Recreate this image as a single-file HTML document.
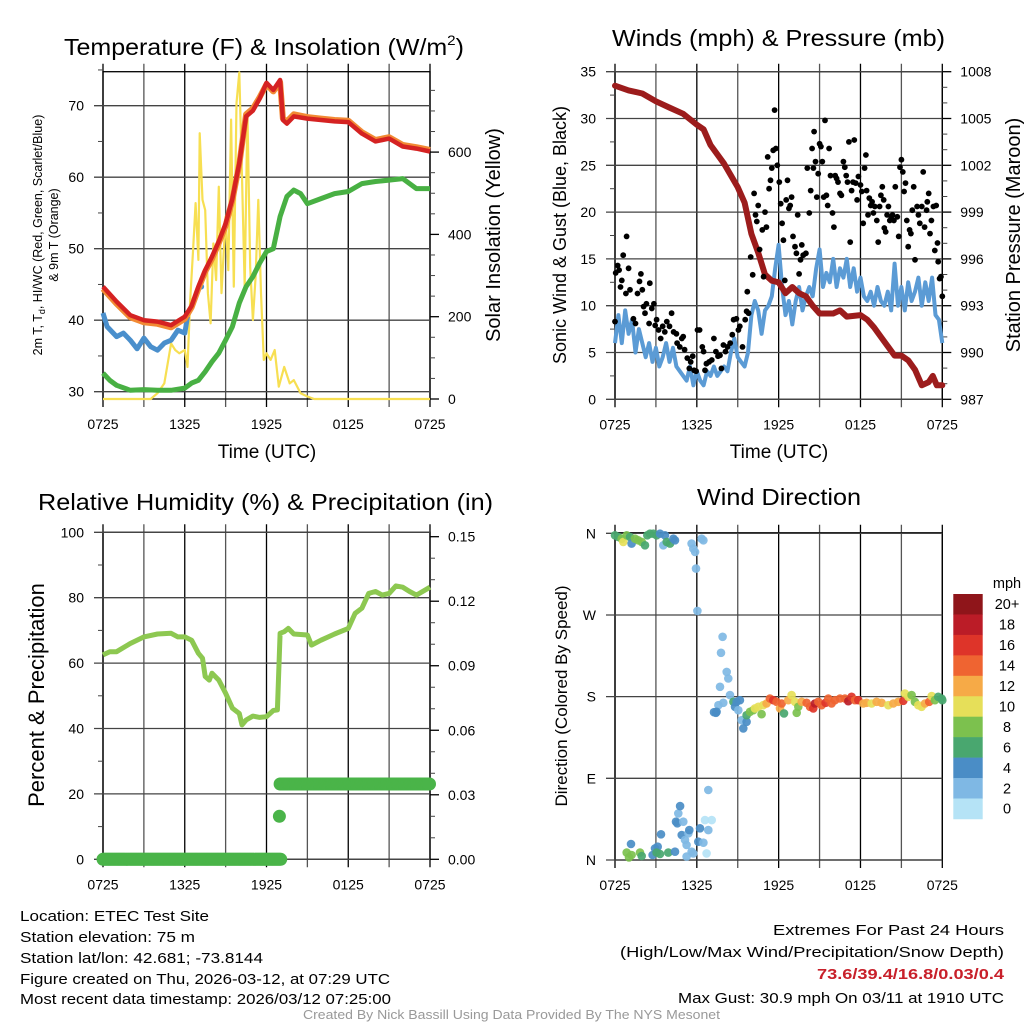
<!DOCTYPE html>
<html><head><meta charset="utf-8"><style>
html,body{margin:0;padding:0;background:#fff;width:1024px;height:1024px;overflow:hidden}
svg{display:block;font-family:"Liberation Sans",Arial,sans-serif}
</style></head><body>
<svg id="chart" width="1024" height="1024" viewBox="0 0 1024 1024" xmlns="http://www.w3.org/2000/svg">
<rect width="1024" height="1024" fill="#fff"/>
<g id="static">
<text x="64" y="55" font-size="23" textLength="400" lengthAdjust="spacingAndGlyphs">Temperature (F) &amp; Insolation (W/m<tspan font-size="14" dy="-10">2</tspan><tspan dy="10">)</tspan></text>
<text x="612" y="46" font-size="23" textLength="333" lengthAdjust="spacingAndGlyphs">Winds (mph) &amp; Pressure (mb)</text>
<text x="38" y="510" font-size="23" textLength="455" lengthAdjust="spacingAndGlyphs">Relative Humidity (%) &amp; Precipitation (in)</text>
<text x="697" y="505" font-size="23" textLength="164" lengthAdjust="spacingAndGlyphs">Wind Direction</text>
<text x="267" y="458" font-size="19" text-anchor="middle">Time (UTC)</text>
<text x="779" y="458" font-size="19" text-anchor="middle">Time (UTC)</text>
<text transform="translate(42,235) rotate(-90)" font-size="12.5" text-anchor="middle">2m T, T<tspan font-size="9" dy="3">d</tspan><tspan dy="-3">, HI/WC (Red, Green, Scarlet/Blue)</tspan></text>
<text transform="translate(58,235) rotate(-90)" font-size="12.5" text-anchor="middle">&amp; 9m T (Orange)</text>
<text transform="translate(500,235) rotate(-90)" font-size="20" text-anchor="middle">Solar Insolation (Yellow)</text>
<text transform="translate(566,235) rotate(-90)" font-size="18" text-anchor="middle">Sonic Wind &amp; Gust (Blue, Black)</text>
<text transform="translate(1020,235) rotate(-90)" font-size="20" text-anchor="middle">Station Pressure (Maroon)</text>
<text transform="translate(44,695) rotate(-90)" font-size="22" text-anchor="middle">Percent &amp; Precipitation</text>
<text transform="translate(567,696) rotate(-90)" font-size="17" text-anchor="middle">Direction (Colored By Speed)</text>
<text x="20" y="921" font-size="15" textLength="189" lengthAdjust="spacingAndGlyphs">Location: ETEC Test Site</text>
<text x="20" y="942" font-size="15" textLength="175" lengthAdjust="spacingAndGlyphs">Station elevation: 75 m</text>
<text x="20" y="963" font-size="15" textLength="243" lengthAdjust="spacingAndGlyphs">Station lat/lon: 42.681; -73.8144</text>
<text x="20" y="984" font-size="15" textLength="370" lengthAdjust="spacingAndGlyphs">Figure created on Thu, 2026-03-12, at 07:29 UTC</text>
<text x="20" y="1004" font-size="15" textLength="371" lengthAdjust="spacingAndGlyphs">Most recent data timestamp: 2026/03/12 07:25:00</text>
<text x="773" y="935" font-size="15" textLength="231" lengthAdjust="spacingAndGlyphs">Extremes For Past 24 Hours</text>
<text x="620" y="957" font-size="15" textLength="384" lengthAdjust="spacingAndGlyphs">(High/Low/Max Wind/Precipitation/Snow Depth)</text>
<text x="817" y="979" font-size="15" font-weight="bold" fill="#c8202a" textLength="187" lengthAdjust="spacingAndGlyphs">73.6/39.4/16.8/0.03/0.4</text>
<text x="678" y="1003" font-size="15" textLength="326" lengthAdjust="spacingAndGlyphs">Max Gust: 30.9 mph On 03/11 at 1910 UTC</text>
<text x="303" y="1019" font-size="12.5" fill="#999" textLength="417" lengthAdjust="spacingAndGlyphs">Created By Nick Bassill Using Data Provided By The NYS Mesonet</text>
</g>
</svg>
<script>
// ---------- DATA ----------
var timeTicks = [0, 6, 12, 18, 24];
var timeTickLabels = ["0725", "1325", "1925", "0125", "0725"];

var tempTimes = [0,1,2,3,4,5,6,6.5,7,7.5,8,8.5,9,9.5,10,10.5,11,11.5,12,12.5,13,13.2,13.5,14,15,16,17,18,19,20,21,22,23,24];
var tempValues = [44.7,42.6,40.7,40,39.8,39.3,40.5,42,44.7,47,48.9,51,53.5,57,62,68.5,69.3,71,73.2,72.2,73.6,68,67.5,68.5,68.2,68,67.8,67.7,66.1,65,65.4,64.3,64,63.6];
var temp9mValues = [44.4,42.3,40.4,39.7,39.5,39.0,40.2,41.8,44.4,46.8,48.6,50.8,53.2,56.8,61.8,68.8,69.6,71.2,73.0,72.0,73.3,68.2,67.8,68.8,68.4,68.2,68.0,67.9,66.3,65.2,65.6,64.5,64.2,63.8];
var chillTimes = [0,0.3,1,1.5,2,2.5,3,3.5,4,4.5,5,5.5,6,6.2];
var chillValues = [41,39.1,37.7,38.2,37.2,36,37.5,36.3,35.8,36.8,37.2,38.6,38.2,40.5];
var chillExtraTimes = [7.2];
var chillExtraValues = [44.7];
var dewTimes = [0,0.5,1,2,3,4,5,6,6.5,7,7.5,8,8.5,9,9.5,10,10.5,11,11.5,12,12.5,13,13.5,14,14.5,15,16,17,18,19,20,21,22,23,24];
var dewValues = [32.6,31.6,30.9,30.2,30.3,30.2,30.2,30.5,31.2,31.6,32.8,34.2,35.4,37.2,39.1,42.4,44.7,46.1,48,49.6,50,54.5,57.3,58.2,57.7,56.3,57,57.7,58,59.1,59.4,59.6,59.8,58.4,58.4];
var solarTimes = [0,3.5,4,4.5,5,5.3,5.6,6,6.2,6.4,6.6,6.8,7,7.1,7.3,7.5,7.7,7.9,8.1,8.3,8.5,8.7,9,9.2,9.4,9.6,9.8,10,10.2,10.4,10.6,10.8,11,11.2,11.4,11.6,11.8,12,12.3,12.6,12.9,13.3,13.7,14,14.5,15,15.5,24];
var solarValues = [0,0,14,38,135,119,111,119,78,241,354,476,338,646,484,459,257,184,378,289,516,257,443,313,679,273,719,794,540,273,700,320,192,297,484,257,95,111,95,119,30,78,38,46,14,6,0,0];

var pressTimes = [0,1,2,3,4,5,6,6.5,7,8,9,9.5,10,10.5,11,11.5,12,12.5,13,13.5,14,14.5,15,16,16.5,17,18,18.5,19,19.5,20,20.5,21,21.5,22,22.5,23,23.3,23.6,24];
var pressValues = [1007.1,1006.8,1006.6,1006.1,1005.7,1005.3,1004.6,1004.3,1003.3,1002.1,1000.6,999.6,997.6,996.4,995,994.6,994.5,993.8,994.2,993.8,993.6,993,992.5,992.5,992.7,992.3,992.4,992.1,991.6,991,990.4,989.8,989.8,989.5,988.9,987.9,988.1,988.5,987.9,987.9];
var windValues = [6,9,6,9.5,7,8.5,5,7.5,6,4.5,6,4,5.5,3.5,4.5,6,4,5.5,3.5,3,2.5,2,3.5,1.5,3,2,1.5,3,2.5,3.5,2.5,3,3.5,3,5,6.5,4.5,4,3.5,5,9,10.5,9.5,7,9.5,10,11,14,16.5,12,9,10.5,8,10.5,12,9.5,11,12,11,14,16,12,13.5,12.5,15,12,14,13,15,12,14,11.5,13,11,10.5,11.5,10,12,10.5,10,11.5,9.5,14.5,10,12,9.5,12.5,10.5,11.5,13,10,12.5,10.5,13,9,8.5,6];
var windStep = 0.25;
var gustTimes = [0,0.05,0.2,0.3,0.4,0.6,0.85,0.8,0.5,1,1.1,1.35,1.5,1.65,1.8,1.9,2,2.1,2.2,2.3,2.5,2.55,2.7,2.85,2.95,3.05,3.2,3.35,3.5,3.65,3.8,4,4.15,4.3,4.5,4.55,4.75,4.9,5,5.1,5.3,5.45,5.55,5.7,5.8,5.95,6.05,6.2,6.4,6.5,6.6,6.7,6.9,7.1,7.25,7.4,7.55,7.7,7.8,7.95,8.1,8.25,8.45,8.6,8.7,8.9,9.05,9.15,9.35,9.55,9.65,9.7,9.8,9.95,10.1,10.2,10.3,10.4,10.5,10.6,10.8,10.9,11,11.1,11.2,11.3,11.4,11.5,11.6,11.7,11.8,11.9,12.05,12.15,12.25,12.35,12.45,12.55,12.65,12.75,12.85,12.95,13.05,13.2,13.3,13.4,13.5,13.6,13.7,13.8,14,14.1,14.25,14.35,14.45,14.55,14.6,14.7,14.8,14.9,15,15.1,15.2,15.3,15.4,15.5,15.6,15.7,15.8,15.95,16.05,16.15,16.25,16.35,16.5,16.6,16.75,16.85,16.95,17.05,17.15,17.25,17.35,17.45,17.55,17.65,17.75,17.85,18,18.1,18.2,18.3,18.4,18.45,18.55,18.65,18.75,18.85,18.95,19.05,19.2,19.3,19.4,19.5,19.6,19.7,19.75,19.85,19.95,20.05,20.15,20.25,20.35,20.45,20.55,20.7,20.8,20.9,21,21.1,21.2,21.3,21.4,21.5,21.6,21.7,21.8,21.9,22,22.15,22.25,22.35,22.5,22.6,22.7,22.85,22.9,23,23.1,23.2,23.35,23.45,23.55,23.65,23.7,23.8,23.9,24];
var gustValues = [8.3,13.5,14.3,13.8,12,15.4,17.4,11.3,12.7,14,11.7,8.6,8.1,11.3,12.6,13.4,11.7,9.9,9.2,10.2,8.1,12.4,9.7,10.2,7.9,8.5,7.4,6.5,7.8,7.2,8.3,7.8,9.2,7.2,7,6,5.6,6.5,6.7,5.3,4.4,3.3,4,4.6,3.1,3,7.4,7.4,5.6,5.1,3.1,3.8,4,4.2,6.5,5.1,4.6,4.7,3.3,5.8,5.1,5.6,6,6.9,8.5,8.6,7.4,7.8,5.6,8.5,9.4,11.5,9.2,15.2,13.3,22,19.7,19,20.7,16,18.1,13.1,20,18.4,25.9,22.5,23.4,24.7,26.6,30.9,26.8,25,23.2,20.9,18.8,17,12.7,21.3,23.4,20.4,20.7,21.6,17.4,16.3,15.6,19.7,13.4,14.9,16.5,15.4,15.6,24.7,19.9,22.3,26.8,24.7,28.6,25.4,21.6,24.1,27.3,27,25.4,21.6,29.8,21.8,20.7,26.8,23.9,19.9,18.4,23.9,23.6,23.2,22,21.8,25.4,24.8,23.9,23.2,27.5,16.8,22.3,23.2,27.7,23.1,21.3,23.8,22.9,22.2,18.8,24.7,26.1,22.3,19.7,21.5,20.7,21.1,19.9,20.6,19.1,16.8,20.6,21.8,22.7,21.3,18.3,17.9,19.7,20.6,19.1,19.5,19.7,19.1,22.7,19.5,17.4,24.8,25.6,24.3,22.2,23.1,19.1,16.3,18.1,17.7,20.2,22.7,14.9,20.6,19.7,18.8,20.6,24.3,18.4,20.2,21.1,22,17.7,19.1,20.6,15.9,20.7,16.7,14.7,12.9,13.1,11];

var rhTimes = [0,0.5,1,2,3,4,5,5.5,6,6.5,7,7.3,7.5,7.8,8,8.5,9,9.5,10,10.2,10.5,11,11.5,12,12.5,12.8,13,13.3,13.6,14,15,15.3,16,17,18,18.5,19,19.5,20,20.5,21,21.5,22,22.5,23,24];
var rhValues = [62.5,63.5,63.5,66,68,68.9,69.1,68,68,67,63,61.5,55.9,54.8,56.9,54.8,50.8,46.2,44.6,41.1,42.6,43.8,43.4,43.6,45.5,45.7,69.1,69.6,70.6,68.9,68.6,65.5,67,68.9,70.6,75.2,76.8,81.3,81.9,80.8,81.3,83.6,83.2,81.9,80.8,83.2];
var precipRunStart = [0, 12.95, 13.0];
var precipRunEnd = [13.1, 12.95, 24];
var precipRunValue = [0, 0.02, 0.035];

var dirTimes = [0,0.24,0.49,0.61,0.86,1.1,1.22,1.47,1.71,1.96,2.2,2.37,2.57,2.81,3.05,3.3,3.54,3.67,3.79,4.03,4.28,4.4,5.62,5.74,5.87,6.35,6.48,5.94,6.04,
7.89,7.77,8.19,8.31,7.7,8.43,7.94,7.58,7.26,7.4,7.45,8.68,8.8,8.92,9.16,9.04,9.29,9.41,9.65,9.65,9.9,10.14,10.26,10.51,10.75,10.87,11.12,11.36,11.61,11.85,12.1,12.22,12.39,12.71,12.95,13.2,13.32,13.44,13.69,14.05,14.3,14.54,14.66,14.91,15.15,15.44,15.64,15.88,16.13,16.5,16.86,17.11,17.35,17.6,17.84,18.21,18.45,18.82,19.18,19.55,20.04,20.41,20.77,21.14,21.26,21.51,21.75,21.99,22.24,22.48,22.73,23.04,23.22,23.46,23.7,23.95,24,
1.17,0.86,1.03,1.22,1.83,1.96,2.76,2.93,3.13,3.05,3.3,3.37,3.91,4.4,4.47,4.57,4.64,4.77,4.89,5.01,5.13,5.25,5.38,5.45,5.62,5.74,5.25,6.11,6.23,6.48,6.6,6.72,6.84,7.09,6.84];
var dirDegrees = [357.8,356,354.1,350.5,357.8,356,348.6,354.1,352.3,350.5,346.8,357.8,359.6,359.6,357.8,359.6,346.8,357.8,350.5,348.6,354.1,352.3,348.6,343.1,339.4,354.1,352.3,321.1,274.5,
245.9,228.3,207.3,200,190.8,181.7,173.2,170.6,162.9,162.2,163.3,174.3,168.8,174.3,176.1,165.1,154.1,145,152.3,159.6,163.3,165.1,167,168.8,160.7,170.6,172.5,178,176.1,174.3,167,172.5,161.5,176.1,181.7,174.3,162.2,168.8,174.3,173.2,168.8,167,172.5,174.3,170.6,173.2,178,172.5,176.1,178,178,175,179.8,176.1,176.1,172.5,173.2,172.5,174.3,173.2,170.6,172.5,174.3,175.4,183.5,179.8,181.7,174.3,170.6,168.8,172.5,174.3,180.6,176.1,179.8,178,176.1,
17.6,8.1,2.9,5.5,8.1,4.4,5.5,12.8,14.7,8.1,6.6,28.3,8.1,9.2,42.2,40.4,51.4,59.4,27.5,42.2,22,16.5,29.4,33,9.2,7.3,3.7,20.2,34.9,19.1,44,7.3,33,44,77.1];
var dirSpeeds = [6,6,8,10,8,6,4,8,8,8,6,6,6,6,6,4,2,4,6,6,4,4,2,2,2,2,2,2,1,
2,2,2,2,2,2,2,2,4,4,4,6,4,4,4,2,2,4,4,6,8,8,10,10,8,10,12,14,16,14,12,14,6,12,10,10,8,8,12,14,14,16,18,14,14,16,14,14,14,14,14,18,16,14,16,12,12,10,12,12,10,12,12,16,10,10,8,8,10,10,12,14,10,8,6,6,6,
4,8,8,8,8,6,4,4,4,6,6,4,6,4,4,4,2,4,4,2,2,2,2,4,2,2,2,4,4,2,0,0,2,0,2];
var speedBins = [0,2,4,6,8,10,12,14,16,18,20];
var speedBinLabels = ["0","2","4","6","8","10","12","14","16","18","20+"];
var speedColors = ["#b5e3f6","#7fb8e4","#4a8dc6","#49a76f","#7cc14e","#e6df59","#f6aa47","#ef6431","#de3429","#bb1c27","#8f151a"];
var dirTicks = [0, 90, 180, 270, 360];
var dirTickLabels = ["N", "E", "S", "W", "N"];

// ---------- SCALES ----------
var NS = "http://www.w3.org/2000/svg";
var svg = document.getElementById("chart");
function mk(tag, attrs, parent) {
  var e = document.createElementNS(NS, tag);
  for (var k in attrs) e.setAttribute(k, attrs[k]);
  (parent || svg).appendChild(e);
  return e;
}
var L = {x0: 103, x1: 430}, R = {x0: 615, x1: 942.3};
function xL(h) { return L.x0 + h * (L.x1 - L.x0) / 24; }
function xR(h) { return R.x0 + h * (R.x1 - R.x0) / 24; }
function yTemp(t) { return 391.7 - (t - 30) * 7.15; }
function ySolar(s) { return 399 - s * 0.4115; }
function yWind(v) { return 399.3 - v * 9.36; }
function yPress(p) { return 399.3 - (p - 987) * 15.6; }
function yRH(r) { return 859.3 - r * 3.27; }
function yPrecip(p) { return 859.3 - p * 2150.7; }
function yDir(d) { return 860 - d * 0.9075; }
function pathFrom(ts, vs, fx, fy) {
  var d = "";
  for (var i = 0; i < ts.length; i++) d += (i ? "L" : "M") + fx(ts[i]).toFixed(1) + "," + fy(vs[i]).toFixed(1);
  return d;
}

// ---------- AXES / GRID ----------
function panelFrame(name, x0, x1, yTop, yBot, fx) {
  var g = mk("g", {});
  
  
  for (var h = 0; h <= 24; h += 3) {
    var ln = mk("line", {x1: fx(h), x2: fx(h), y1: yTop - 8, y2: yBot + 8, stroke: (h % 6 === 0 ? "#000" : "#555"), "stroke-width": 1.3}, g);
    
    
  }
  for (var i = 0; i < timeTicks.length; i++) {
    var t = mk("text", {x: fx(timeTicks[i]), y: yBot + 30, "font-size": 14, "text-anchor": "middle"}, g);
    
    
    t.textContent = timeTickLabels[i];
  }
  var fr = mk("rect", {x: x0, y: yTop, width: x1 - x0, height: yBot - yTop, fill: "none", stroke: "#000", "stroke-width": 1.3}, g);
  
  
  return g;
}
function yAxis(name, g, vals, fy, x0, x1, side, labels, minorVals) {
  for (var i = 0; i < vals.length; i++) {
    var y = fy(vals[i]);
    if (side === "left") {
      var gl = mk("line", {x1: x0 - 9, x2: x1, y1: y, y2: y, stroke: "#444", "stroke-width": 1.3}, g);
      
      
      var t = mk("text", {x: x0 - 19, y: y + 5, "font-size": 14, "text-anchor": "end"}, g);
      
      
      t.textContent = labels[i];
    } else {
      var tk = mk("line", {x1: x1, x2: x1 + 9, y1: y, y2: y, stroke: "#000", "stroke-width": 1.3}, g);
      
      
      var t2 = mk("text", {x: x1 + 18, y: y + 5, "font-size": 14}, g);
      
      
      t2.textContent = labels[i];
    }
  }
  if (minorVals) for (var j = 0; j < minorVals.length; j++) {
    var ym = fy(minorVals[j]);
    var mx = side === "left" ? [x0 - 5, x0] : [x1, x1 + 5];
    var m = mk("line", {x1: mx[0], x2: mx[1], y1: ym, y2: ym, stroke: "#444", "stroke-width": 1}, g);
    
    
  }
}

var g1 = panelFrame("temperature", L.x0, L.x1, 71.7, 399, xL);
yAxis("temperature", g1, [30,40,50,60,70], yTemp, L.x0, L.x1, "left", ["30","40","50","60","70"], [35,45,55,65,75]);
yAxis("solar", g1, [0,200,400,600], ySolar, L.x0, L.x1, "right", ["0","200","400","600"], [50,100,150,250,300,350,450,500,550,650,700,750]);
var g2 = panelFrame("wind", R.x0, R.x1, 71.7, 399.3, xR);
yAxis("wind", g2, [0,5,10,15,20,25,30,35], yWind, R.x0, R.x1, "left", ["0","5","10","15","20","25","30","35"], [2.5,7.5,12.5,17.5,22.5,27.5,32.5]);
yAxis("pressure", g2, [987,990,993,996,999,1002,1005,1008], yPress, R.x0, R.x1, "right", ["987","990","993","996","999","1002","1005","1008"], [988,989,991,992,994,995,997,998,1000,1001,1003,1004,1006,1007]);
var g3 = panelFrame("humidity", L.x0, L.x1, 532.3, 859.3, xL);
yAxis("humidity", g3, [0,20,40,60,80,100], yRH, L.x0, L.x1, "left", ["0","20","40","60","80","100"], [10,30,50,70,90]);
yAxis("precip", g3, [0,0.03,0.06,0.09,0.12,0.15], yPrecip, L.x0, L.x1, "right", ["0.00","0.03","0.06","0.09","0.12","0.15"], [0.01,0.02,0.04,0.05,0.07,0.08,0.1,0.11,0.13,0.14]);
var g4 = panelFrame("direction", R.x0, R.x1, 532.7, 860, xR);
yAxis("direction", g4, dirTicks, yDir, R.x0, R.x1, "left", dirTickLabels, null);

// ---------- SERIES ----------
var s;
s = mk("path", {d: pathFrom(solarTimes, solarValues, xL, ySolar), fill: "none", stroke: "#f7df52", "stroke-width": 2.2, "stroke-linejoin": "round"});


s = mk("path", {d: pathFrom(dewTimes, dewValues, xL, yTemp), fill: "none", stroke: "#48b043", "stroke-width": 5, "stroke-linejoin": "round"});


s = mk("path", {d: pathFrom(chillTimes, chillValues, xL, yTemp), fill: "none", stroke: "#4a8fcc", "stroke-width": 5, "stroke-linejoin": "round"});


for (var i = 0; i < chillExtraTimes.length; i++) {
  s = mk("circle", {cx: xL(chillExtraTimes[i]), cy: yTemp(chillExtraValues[i]), r: 3, fill: "#4a8fcc"});
  
  
}
s = mk("path", {d: pathFrom(tempTimes, temp9mValues, xL, yTemp), fill: "none", stroke: "#f28a34", "stroke-width": 6, "stroke-linejoin": "round"});


s = mk("path", {d: pathFrom(tempTimes, tempValues, xL, yTemp), fill: "none", stroke: "#d52222", "stroke-width": 4.5, "stroke-linejoin": "round"});



var windTimes = [];
for (var i = 0; i < windValues.length; i++) windTimes.push(i * windStep);
s = mk("path", {d: pathFrom(windTimes, windValues, xR, yWind), fill: "none", stroke: "#5b9bd5", "stroke-width": 4, "stroke-linejoin": "round"});


s = mk("path", {d: pathFrom(pressTimes, pressValues, xR, yPress), fill: "none", stroke: "#9c1c1c", "stroke-width": 6, "stroke-linejoin": "round", "stroke-linecap": "round"});


for (var i = 0; i < gustTimes.length; i++) {
  s = mk("circle", {cx: xR(gustTimes[i]).toFixed(1), cy: yWind(gustValues[i]).toFixed(1), r: 2.9, fill: "#000"});
  
  
}

s = mk("path", {d: pathFrom(rhTimes, rhValues, xL, yRH), fill: "none", stroke: "#8dc851", "stroke-width": 5, "stroke-linejoin": "round"});


for (var k = 0; k < precipRunStart.length; k++) {
  for (var h = precipRunStart[k]; h <= precipRunEnd[k] + 1e-6; h += 0.08) {
    s = mk("circle", {cx: xL(h).toFixed(1), cy: yPrecip(precipRunValue[k]).toFixed(1), r: 6.5, fill: "#4ab449"});
    
    
  }
}

function speedColor(v) {
  var idx = 0;
  for (var b = 0; b < speedBins.length; b++) if (v >= speedBins[b] - 1) idx = b;
  return speedColors[idx];
}
for (var i = 0; i < dirTimes.length; i++) {
  s = mk("circle", {cx: xR(dirTimes[i]).toFixed(1), cy: yDir(dirDegrees[i]).toFixed(1), r: 4.3, fill: speedColor(dirSpeeds[i]), "fill-opacity": 0.92});
  
  
}

// colorbar
var cb = mk("g", {});


var cbTop = 594, cbH = 20.45;
for (var i = 0; i < speedColors.length; i++) {
  var idx = speedColors.length - 1 - i;
  s = mk("rect", {x: 953.3, y: cbTop + i * cbH, width: 29.4, height: cbH + 0.3, fill: speedColors[idx]}, cb);
  
  
  s = mk("text", {x: 1007, y: cbTop + i * cbH + cbH / 2 + 5, "font-size": 14.5, "text-anchor": "middle"}, cb);
  
  
  s.textContent = speedBinLabels[idx];
}
s = mk("text", {x: 1007, y: 588, "font-size": 14.5, "text-anchor": "middle"}, cb);


s.textContent = "mph";
</script>
</body></html>
